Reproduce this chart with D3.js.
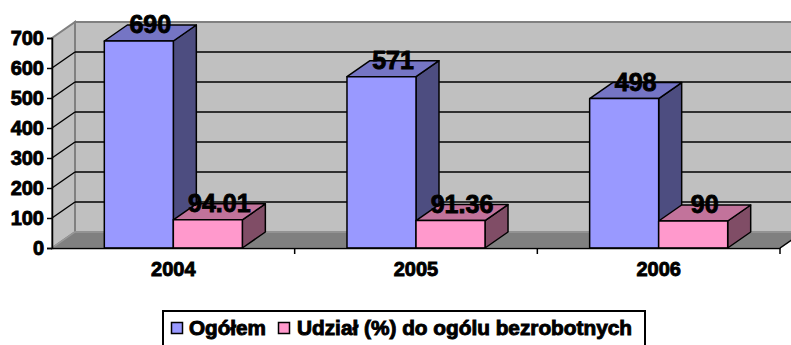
<!DOCTYPE html>
<html>
<head>
<meta charset="utf-8">
<script src="https://cdn.jsdelivr.net/npm/d3@7"></script>
<style>
  html, body { margin: 0; padding: 0; background: #fff; }
  svg { display: block; }
  svg text { font-family: "Liberation Sans", Arial, sans-serif; font-weight: bold; fill: #000; stroke: #000; stroke-width: 0.9px; }
</style>
</head>
<body>
<svg id="chart" width="791" height="345"></svg>
<script>
// Bezrobotni — liczba ogółem i udział (%) w ogóle bezrobotnych
const categories = ["2004", "2005", "2006"];
const seriesNames = ["Ogółem", "Udział (%) do ogólu bezrobotnych"];
const ogolem = [690, 571, 498];
const udzial = [94.01, 91.36, 90];
const yTicks = [0, 100, 200, 300, 400, 500, 600, 700];

const seriesValues = [ogolem, udzial];
const seriesColors = [
  { front: "#9999FF", top: "#7575C4", side: "#4D4D80" },
  { front: "#FF99CC", top: "#C2739B", side: "#804D66" }
];

const svg = d3.select("#chart");

// 3D depth offset
const DX = 23, DY = -16;

const x = d3.scaleBand().domain(categories).range([52, 780]);
const xs = d3.scaleBand().domain(d3.range(seriesNames.length))
  .range([0, x.bandwidth()]).paddingInner(0).paddingOuter(0.758);
const y = d3.scaleLinear().domain([0, 700]).range([248, 38]);

const x0 = x.range()[0], x1 = x.range()[1];
const yb = y(0), yt = y(700);
const pts = a => a.map(p => p.join(",")).join(" ");

// walls and floor
svg.append("polygon")
  .attr("points", pts([[x0 + DX, yt + DY], [x1 + DX, yt + DY], [x1 + DX, yb + DY], [x0 + DX, yb + DY]]))
  .attr("fill", "#C0C0C0").attr("stroke", "#808080").attr("stroke-width", 2);
svg.append("polygon")
  .attr("points", pts([[x0, yt], [x0 + DX, yt + DY], [x0 + DX, yb + DY], [x0, yb]]))
  .attr("fill", "#C0C0C0").attr("stroke", "#808080").attr("stroke-width", 2);
svg.append("polygon")
  .attr("points", pts([[x0, yb], [x0 + DX, yb + DY], [x1 + DX, yb + DY], [x1, yb]]))
  .attr("fill", "#808080").attr("stroke", "#999999").attr("stroke-width", 1.5);
svg.append("line")
  .attr("x1", x1).attr("y1", yb).attr("x2", x1 + DX).attr("y2", yb + DY)
  .attr("stroke", "#000").attr("stroke-width", 1.5);

// gridlines on the side and back walls
const grid = yTicks.filter(v => v > 0 && v < 700);
svg.append("g").selectAll("line").data(grid).join("line")
  .attr("x1", x0).attr("y1", d => y(d)).attr("x2", x0 + DX).attr("y2", d => y(d) + DY)
  .attr("stroke", "#000").attr("stroke-width", 1.5);
svg.append("g").selectAll("line").data(grid).join("line")
  .attr("x1", x0 + DX).attr("y1", d => y(d) + DY).attr("x2", x1 + DX).attr("y2", d => y(d) + DY)
  .attr("stroke", "#000").attr("stroke-width", 1.5);

// bars, drawn left to right so each front face covers its neighbour's side
const bars = [];
categories.forEach((c, i) => {
  seriesValues.forEach((vals, s) => {
    bars.push({ cat: c, s, v: vals[i], bx: x(c) + xs(s), w: xs.bandwidth() });
  });
});
const gBars = svg.append("g").attr("stroke", "#000").attr("stroke-width", 1.5).attr("stroke-linejoin", "round");
bars.forEach(b => {
  const top = y(b.v), l = b.bx, r = b.bx + b.w;
  const col = seriesColors[b.s];
  gBars.append("polygon")
    .attr("points", pts([[r, top], [r + DX, top + DY], [r + DX, yb + DY], [r, yb]]))
    .attr("fill", col.side);
  gBars.append("polygon")
    .attr("points", pts([[l, top], [l + DX, top + DY], [r + DX, top + DY], [r, top]]))
    .attr("fill", col.top);
  gBars.append("rect")
    .attr("x", l).attr("y", top).attr("width", b.w).attr("height", yb - top)
    .attr("fill", col.front);
});

// axes
const yAxis = svg.append("g").attr("transform", `translate(${x0},0)`)
  .call(d3.axisLeft(y).tickValues(yTicks).tickSize(5).tickPadding(3).tickFormat(d3.format("d")));
yAxis.attr("font-family", null).attr("font-size", null);
yAxis.select(".domain").attr("stroke", "#000").attr("stroke-width", 1.5);
yAxis.selectAll(".tick line").attr("stroke", "#000").attr("stroke-width", 1.5);
yAxis.selectAll(".tick text").attr("fill", null).style("font-size", "20px");

const xAxis = svg.append("g").attr("transform", `translate(0,${yb})`)
  .call(d3.axisBottom(x).tickSize(0).tickPadding(14));
xAxis.attr("font-family", null).attr("font-size", null);
xAxis.select(".domain").attr("stroke", "#000").attr("stroke-width", 1.5);
xAxis.selectAll(".tick text").attr("fill", null).style("font-size", "20px");
// category separators
svg.append("g").selectAll("line").data(categories.slice(1).concat(["__end"])).join("line")
  .attr("x1", d => d === "__end" ? x1 : x(d)).attr("x2", d => d === "__end" ? x1 : x(d))
  .attr("y1", yb).attr("y2", yb + 6)
  .attr("stroke", "#000").attr("stroke-width", 1.5);

// value labels
svg.append("g").selectAll("text").data(bars).join("text")
  .attr("x", b => b.bx + b.w / 2 + DX / 2)
  .attr("y", b => y(b.v) + DY / 2)
  .attr("text-anchor", "middle")
  .style("font-size", "25px")
  .text(b => String(b.v));

// legend
const lg = svg.append("g");
lg.append("rect").attr("x", 163).attr("y", 311).attr("width", 482).attr("height", 40)
  .attr("fill", "#fff").attr("stroke", "#000").attr("stroke-width", 2);
const legendItems = [
  { name: seriesNames[0], sx: 171, tx: 189, tw: 77 },
  { name: seriesNames[1], sx: 278, tx: 297, tw: 335 }
];
legendItems.forEach((it, i) => {
  lg.append("rect").attr("x", it.sx + 0.5).attr("y", 322.5).attr("width", 11).attr("height", 11)
    .attr("fill", seriesColors[i].front).attr("stroke", "#000").attr("stroke-width", 1.5);
  lg.append("text").attr("x", it.tx).attr("y", 334.5)
    .style("font-size", "19.5px")
    .attr("textLength", it.tw).attr("lengthAdjust", "spacingAndGlyphs")
    .text(it.name);
});
</script>
</body>
</html>
